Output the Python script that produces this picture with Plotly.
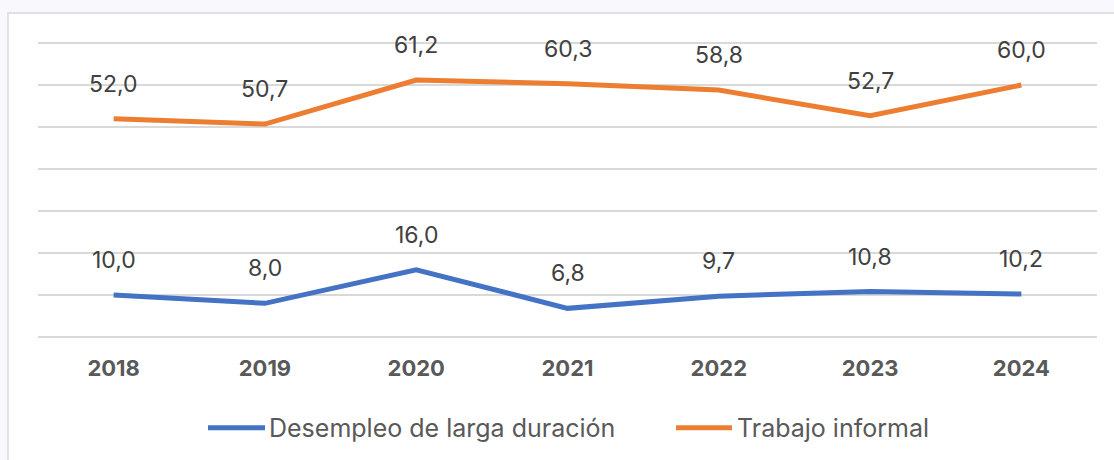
import plotly.graph_objects as go

years = ["2018", "2019", "2020", "2021", "2022", "2023", "2024"]
desempleo = [10.0, 8.0, 16.0, 6.8, 9.7, 10.8, 10.2]
informal = [52.0, 50.7, 61.2, 60.3, 58.8, 52.7, 60.0]
series_names = ["Desempleo de larga duración", "Trabajo informal"]
colors = ["#4472C4", "#ED7D31"]

FONT = "Inter"

def fmt(v):
    return f"{v:.1f}".replace(".", ",")

fig = go.Figure()
for name, vals, col in zip(series_names, [desempleo, informal], colors):
    fig.add_trace(go.Scatter(
        x=years, y=vals, mode="lines", name=name,
        line=dict(color=col, width=5),
        hoverinfo="skip", showlegend=False,
    ))

annotations = []
for vals in [desempleo, informal]:
    for i, v in enumerate(vals):
        annotations.append(dict(
            x=i, y=v, xref="x", yref="y", text=fmt(v), showarrow=False, yshift=35,
            font=dict(family=FONT, size=23, color="#404040"),
            xanchor="center", yanchor="middle",
        ))

W, H = 1114, 460
YPAD = 0.5
ppu = (337 - 43) / 70.0
L, R = 38, 17
T = 43 - YPAD * ppu
B = H - 337 - YPAD * ppu
pw, ph = W - L - R, H - T - B

def px_to_paper_x(px):
    return (px - L) / pw

def px_to_paper_y(py):
    return (H - B - py) / ph

shapes = [dict(
    type="rect", xref="paper", yref="paper",
    x0=px_to_paper_x(8), x1=px_to_paper_x(1130),
    y0=px_to_paper_y(480), y1=px_to_paper_y(13),
    fillcolor="white", line=dict(color="#D9D9D9", width=1.5),
    layer="below",
)]
legend_y = 428
legend_items = [(208, 265, 267), (676, 732, 735)]
for (lx0, lx1, tx), name, col in zip(legend_items, series_names, colors):
    shapes.append(dict(
        type="line", xref="paper", yref="paper",
        x0=px_to_paper_x(lx0), x1=px_to_paper_x(lx1),
        y0=px_to_paper_y(legend_y), y1=px_to_paper_y(legend_y),
        line=dict(color=col, width=5),
    ))
    annotations.append(dict(
        x=px_to_paper_x(tx), y=px_to_paper_y(legend_y), xref="paper", yref="paper",
        text=name, showarrow=False, xanchor="left", yanchor="middle",
        font=dict(family=FONT, size=25, color="#595959"),
    ))

fig.update_layout(
    width=W, height=H,
    margin=dict(l=L, r=R, t=T, b=B, pad=0),
    paper_bgcolor="#F8F8FD",
    plot_bgcolor="rgba(0,0,0,0)",
    font=dict(family=FONT, color="#595959"),
    showlegend=False,
    xaxis=dict(
        type="category", range=[-0.5, 6.5],
        showgrid=False, zeroline=False, showline=False,
        ticks="", tickfont=dict(family=FONT, size=22, color="#595959", weight="bold"),
        ticklabelstandoff=14,
    ),
    yaxis=dict(
        range=[-YPAD, 70 + YPAD], tick0=0, dtick=10, showticklabels=False,
        showgrid=True, gridcolor="#D9D9D9", gridwidth=1.5,
        zeroline=False, showline=False,
    ),
    annotations=annotations,
    shapes=shapes,
)

fig.write_html(
    "out.html",
    config={"displayModeBar": False},
    post_script="document.body.style.margin='0';document.body.style.background='#F8F8FD';",
)
